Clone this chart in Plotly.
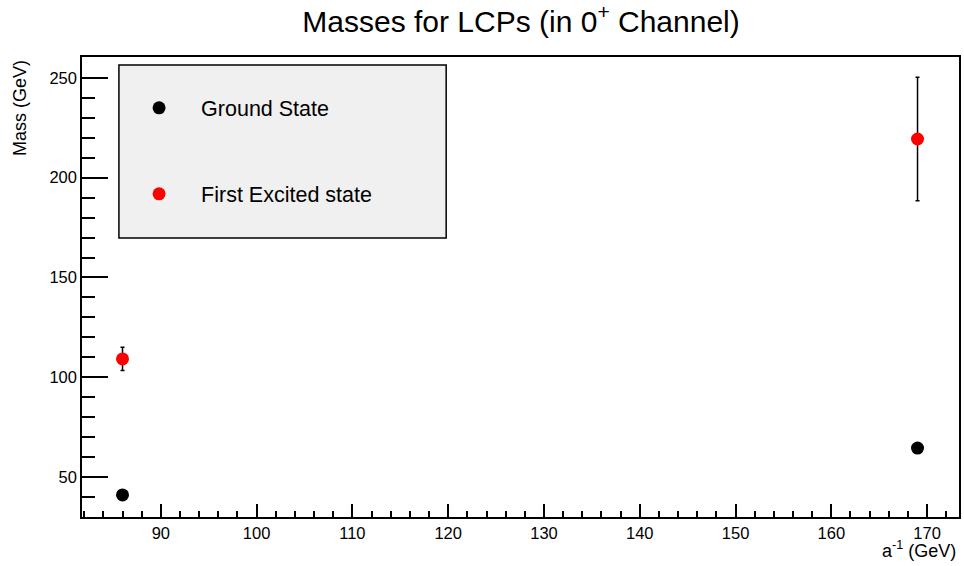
import plotly.graph_objects as go

# Data
a_inv = [86, 169]
ground_mass = [41.0, 64.5]
excited_mass = [109.2, 219.4]
excited_err = [5.8, 31.0]
series_names = ["Ground State", "First Excited state"]

FONT = "Liberation Sans, Arial, Helvetica, sans-serif"

fig = go.Figure()
fig.add_trace(go.Scatter(
    x=a_inv, y=ground_mass, mode="markers", name=series_names[0],
    legendgroup="g1",
    marker=dict(color="black", size=13, symbol="circle"),
))
fig.add_trace(go.Scatter(
    x=a_inv, y=excited_mass, mode="markers", name=series_names[1],
    legendgroup="g2",
    marker=dict(color="#ff0000", size=13, symbol="circle"),
    error_y=dict(type="data", array=excited_err, visible=True,
                 color="black", thickness=1.5, width=2),
))

fig.update_layout(
    width=964, height=566,
    margin=dict(l=82, r=3, t=57, b=49),
    paper_bgcolor="white", plot_bgcolor="white",
    font=dict(family=FONT, color="black"),
    title=dict(text="Masses for LCPs (in 0<sup>+</sup> Channel)",
               x=0.5405, xanchor="center", y=0.962, yanchor="middle",
               font=dict(size=30, family=FONT, color="black")),
    showlegend=True,
    legend=dict(x=0.04, xanchor="left", y=0.934, yanchor="top",
                xref="paper", yref="paper",
                bgcolor="rgba(0,0,0,0)", borderwidth=0,
                font=dict(size=21.5, family=FONT, color="black"),
                itemwidth=74, tracegroupgap=55, traceorder="grouped",
                itemclick=False),
    shapes=[dict(type="rect", xref="paper", yref="paper",
                 x0=(119 - 82) / 879, x1=(447 - 82) / 879,
                 y0=(517 - 238) / 460, y1=(517 - 65) / 460,
                 fillcolor="#f0f0f0", line=dict(color="black", width=1.5),
                 layer="below")],
    annotations=[
        dict(text="a<sup>-1</sup> (GeV)", xref="paper", yref="paper",
             x=1, y=0, xanchor="right", yanchor="middle", yshift=-32, xshift=-1,
             showarrow=False, font=dict(size=18, family=FONT, color="black")),
        dict(text="Mass (GeV)", xref="paper", yref="paper", textangle=-90,
             x=0, y=1, xanchor="center", yanchor="top", xshift=-62, yshift=-1,
             showarrow=False, font=dict(size=18, family=FONT, color="black")),
    ],
)

fig.update_xaxes(
    range=[81.77, 173.33], showgrid=False, zeroline=False,
    showline=True, linecolor="black", linewidth=1.5, mirror=True,
    ticks="inside", ticklen=13, tickwidth=1.5, tickcolor="black",
    dtick=10, tick0=0,
    tickfont=dict(size=16.5, family=FONT, color="black"),
    minor=dict(ticks="inside", ticklen=6, tickwidth=1.5, tickcolor="black", dtick=2, showgrid=False),
)
fig.update_yaxes(
    range=[29.95, 260.5], showgrid=False, zeroline=False,
    showline=True, linecolor="black", linewidth=1.5, mirror=True,
    ticks="inside", ticklen=26, tickwidth=1.5, tickcolor="black",
    dtick=50, tick0=0,
    tickfont=dict(size=16.5, family=FONT, color="black"),
    minor=dict(ticks="inside", ticklen=13, tickwidth=1.5, tickcolor="black", dtick=10, showgrid=False),
)

fig.write_html("out.html")
